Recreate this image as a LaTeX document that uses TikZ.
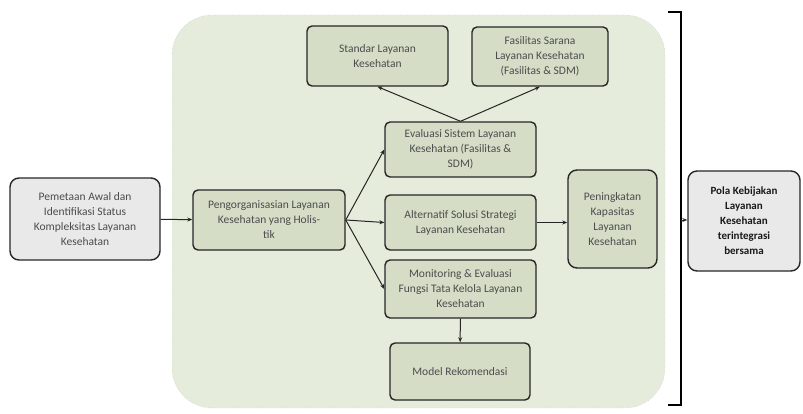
\documentclass[tikz,border=0pt]{standalone}
\usepackage{fontspec}
\setmainfont{Carlito}
\usetikzlibrary{arrows.meta}
\definecolor{areagreen}{RGB}{229,236,219}
\definecolor{boxgreen}{RGB}{213,221,199}
\definecolor{boxgray}{RGB}{233,233,233}

\begin{document}
\begin{tikzpicture}[x=1pt,y=1pt,font=\fontsize{11.5}{15}\selectfont,
  stepbox/.style={draw=black!85,line width=1.4pt,rounded corners=5pt,fill=boxgreen,align=center,text=black!70,inner sep=2pt},
  endbox/.style={stepbox,fill=boxgray,rounded corners=9pt},
  link/.style={-{Stealth[length=5pt,width=4pt]},line width=1pt,draw=black!85}]
\useasboundingbox (0,0) rectangle (803,413);
\draw[fill=areagreen,draw=black!30,dotted,rounded corners=40pt] (172,5) rectangle (665,398);
\node[endbox,minimum width=150,minimum height=82] (awal) at (85,194) {Pemetaan Awal dan\\Identifikasi Status\\Kompleksitas Layanan\\Kesehatan};
\node[stepbox,minimum width=152,minimum height=60] (holistik) at (269,193) {Pengorganisasian Layanan\\Kesehatan yang Holis-\\tik};
\node[stepbox,minimum width=141,minimum height=60] (standar) at (377.5,357) {Standar Layanan\\Kesehatan};
\node[stepbox,minimum width=136,minimum height=59] (fasilitas) at (540,356.5) {Fasilitas Sarana\\Layanan Kesehatan\\(Fasilitas \& SDM)};
\node[stepbox,minimum width=151,minimum height=55] (evaluasi) at (460.5,263.5) {Evaluasi Sistem Layanan\\Kesehatan (Fasilitas \&\\SDM)};
\node[stepbox,minimum width=151,minimum height=55] (alternatif) at (460.5,190.5) {Alternatif Solusi Strategi\\Layanan Kesehatan};
\node[stepbox,minimum width=151,minimum height=58] (monitoring) at (460.5,124) {Monitoring \& Evaluasi\\Fungsi Tata Kelola Layanan\\Kesehatan};
\node[stepbox,minimum width=140,minimum height=57] (model) at (460,41.5) {Model Rekomendasi};
\node[stepbox,minimum width=89,minimum height=98,rounded corners=9pt] (peningkatan) at (612.5,194) {Peningkatan\\Kapasitas\\Layanan\\Kesehatan};
\node[endbox,minimum width=112,minimum height=100,font=\fontsize{11}{15}\selectfont\bfseries,text=black!90] (pola) at (744,192) {Pola Kebijakan\\Layanan\\Kesehatan\\terintegrasi\\bersama};
\draw[link] (awal) -- (holistik);
\draw[link] (holistik.east) -- (evaluasi.west);
\draw[link] (holistik.east) -- (alternatif.west);
\draw[link] (holistik.east) -- (monitoring.west);
\draw[link] (evaluasi.north) -- (standar.south);
\draw[link] (evaluasi.north) -- (fasilitas.south);
\draw[link] (monitoring) -- (model);
\draw[link] (alternatif.east) -- (alternatif.east -| peningkatan.west);
\draw[line width=1.5pt] (668,401) -- (681,401) -- (681,8) -- (668,8);
\coordinate (brace) at (681,193);
\draw[link] (brace) -- (brace -| pola.west);
\end{tikzpicture}
\end{document}
